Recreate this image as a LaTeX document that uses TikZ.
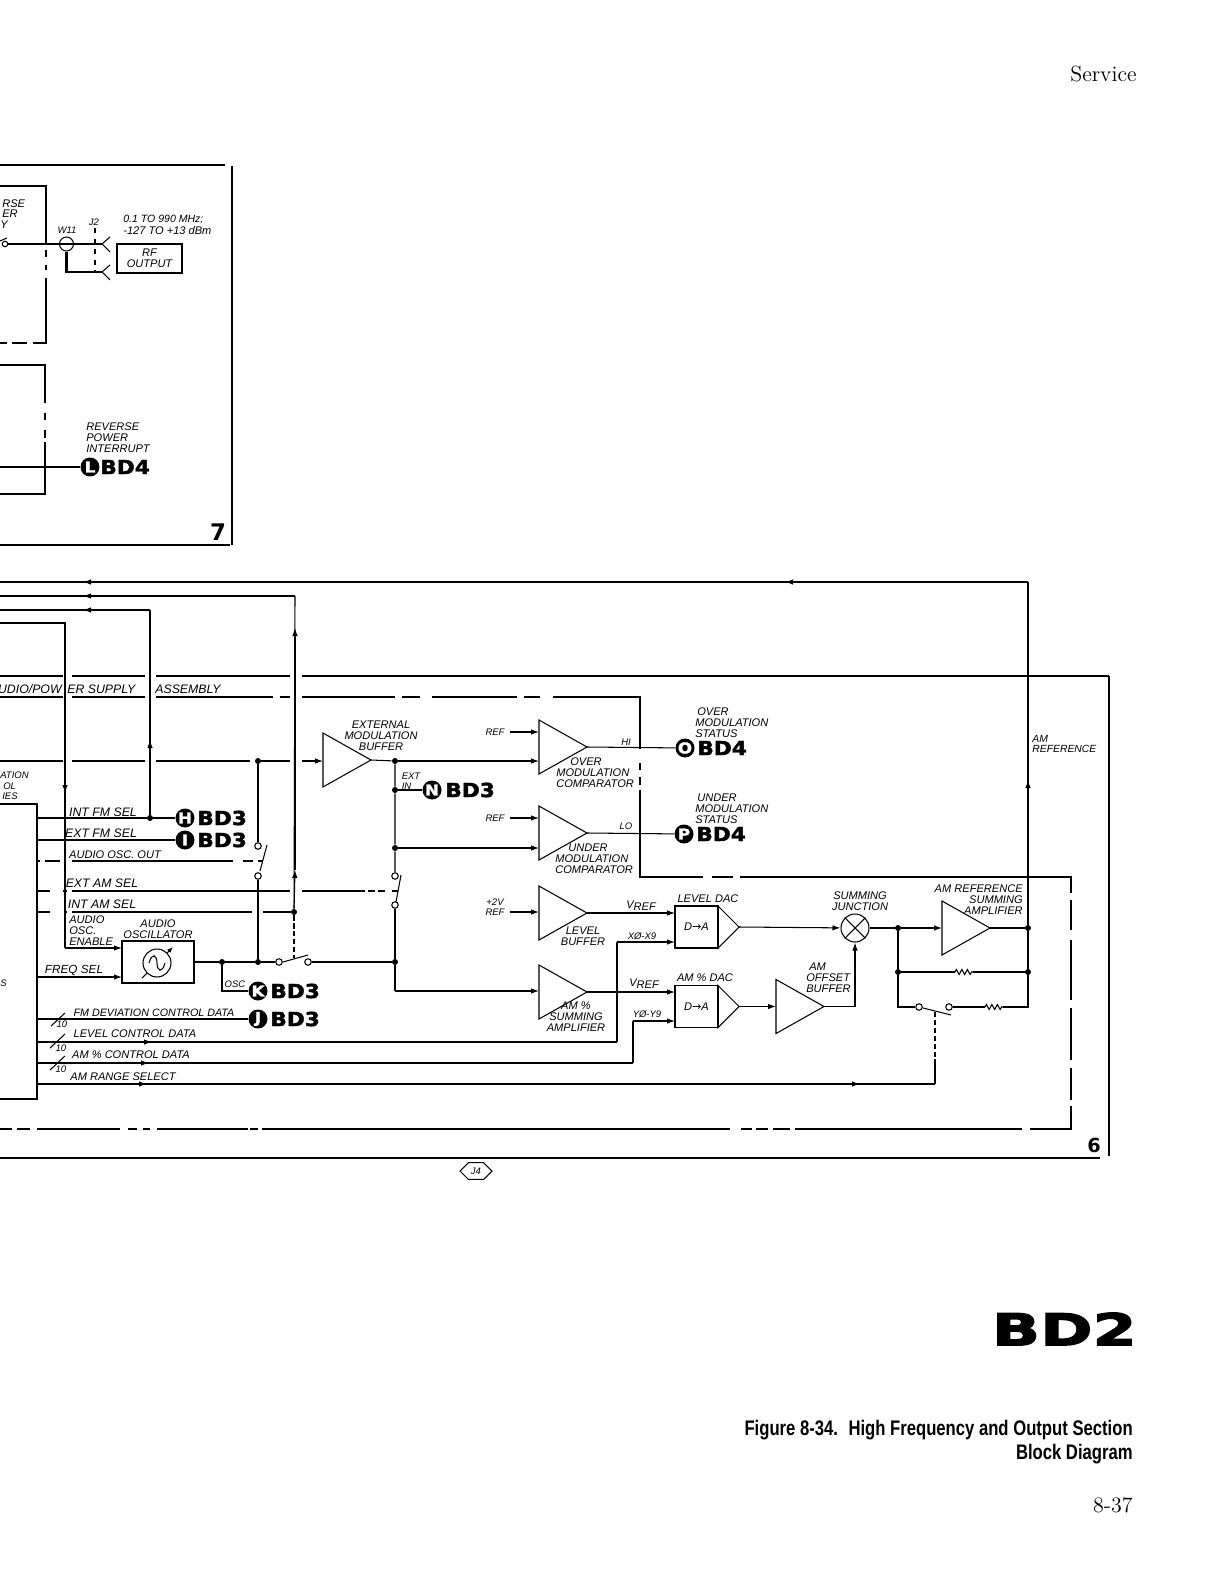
\documentclass[tikz,border=0pt]{standalone}
\usepackage{fontspec}
\usetikzlibrary{arrows.meta,shapes.geometric,shapes.misc,decorations.pathmorphing}
\newfontfamily\letterfont{Liberation Sans}
\newfontfamily\tagfont[FakeStretch=1.12,FakeBold=2]{DejaVu Sans}
\newfontfamily\plaquefont[FakeStretch=1.44,FakeBold=3]{DejaVu Sans}
\newfontfamily\capfont[FakeStretch=0.79]{Liberation Sans}
\newfontfamily\symfont{DejaVu Sans}
\begin{document}
\begin{tikzpicture}[x=0.02cm, y=-0.02cm,
    wire/.style={line width=0.6pt},
    thickwire/.style={line width=1.7pt},
    framing/.style={line width=1.2pt},
    flow/.style={-{Latex[length=1.6mm,width=1.1mm]}},
    lbl/.style={font=\letterfont\itshape\fontsize{6.3}{6.2}\selectfont, inner sep=0pt},
    lblwide/.style={font=\letterfont\itshape\fontsize{7}{7}\selectfont, inner sep=0pt},
    lblsm/.style={font=\letterfont\itshape\fontsize{5.4}{5.7}\selectfont, inner sep=0pt},
    jdot/.style={circle, fill=black, inner sep=0pt, minimum size=0.12cm},
    term/.style={circle, draw, fill=white, line width=0.6pt, inner sep=0pt, minimum size=0.13cm},
    bubble/.style={circle, fill=black, text=white, inner sep=0pt, minimum size=0.38cm, font=\tagfont\bfseries\fontsize{8.5}{8.5}\selectfont},
    bdtag/.style={anchor=west, inner sep=0pt, font=\tagfont\bfseries\fontsize{11}{11}\selectfont},
    amp/.style={draw, wire, isosceles triangle, isosceles triangle stretches, shape border rotate=0, minimum width=1.08cm, minimum height=0.96cm, inner sep=0pt, outer sep=0pt, anchor=lower side},
    dacamp/.style={amp, minimum width=0.84cm, minimum height=0.42cm},
    dacbox/.style={draw, wire, minimum width=0.86cm, minimum height=0.84cm, inner sep=0pt, font=\letterfont\itshape\fontsize{6.3}{6}\selectfont},
    resistor/.style={wire, decorate, decoration={zigzag, amplitude=0.05cm, segment length=0.11cm}},
    ]
    \useasboundingbox (0,0) rectangle (1204,1577);

    \node[font=\fontsize{12.5}{14}\selectfont, anchor=east, inner sep=0pt] (pagehead) at (1137,74) {Service};

    \draw[framing] (0,165) -- (225,165);
    \draw[framing, line width=1.6pt] (232,166) -- (232,545);
    \draw[framing] (0,545) -- (230,545);
    \node[font=\symfont\bfseries\fontsize{13}{13}\selectfont, inner sep=0pt] (panelseven) at (218,532) {7};

    \draw[wire] (0,186) -- (46,186) -- (46,343) -- (0,343);
    \draw[wire] (0,365) -- (45,365) -- (45,494) -- (0,494);

    \draw[framing] (0,676) -- (1109,676);
    \draw[framing, line width=1.6pt] (1109,676) -- (1109,1156);
    \draw[framing] (0,1158) -- (1100,1158);
    \node[font=\symfont\bfseries\fontsize{11}{11}\selectfont, inner sep=0pt] (panelsix) at (1094,1145) {6};
    \draw[wire] (0,697) -- (640,697) -- (640,877) -- (1071,877) -- (1071,1129) -- (0,1129);
    \draw[wire] (0,804) -- (37,804) -- (37,1099) -- (0,1099);

    \coordinate (modleft) at (0,761);
    \coordinate (extin) at (323,761);
    \coordinate (oscoutleft) at (37,861);
    \coordinate (oscoutright) at (263,861);
    \coordinate (extamleft) at (37,891);
    \coordinate (extamright) at (398,891);
    \coordinate (intamleft) at (37,912);
    \node[jdot] (intamdot) at (294,912) {};
    \coordinate (levleft) at (37,1042);
    \coordinate (levturn) at (617,1042);
    \coordinate (amcleft) at (37,1063);
    \coordinate (amcturn) at (633,1063);
    \coordinate (rngleft) at (37,1084);
    \coordinate (rngturn) at (935,1084);

    \draw[wire, flow] (modleft) -- (extin);
    \draw[wire] (oscoutleft) -- (oscoutright);
    \draw[wire] (extamleft) -- (extamright);
    \draw[wire] (intamleft) -- (intamdot);
    \draw[wire] (levleft) -- (levturn);
    \draw[wire] (amcleft) -- (amcturn);
    \draw[wire] (rngleft) -- (rngturn);

    \foreach \xa/\xb/\yy in {63/72/676, 145/156/676, 290/302/676,
        63/72/697, 145/156/697, 273/280/697, 290/302/697, 395/402/697, 420/432/697, 517/524/697, 540/553/697,
        63/72/761, 145/156/761, 250/256/761, 290/302/761,
        40/45/861, 60/72/861, 233/243/861, 253/258/861,
        50/63/891, 67/72/891, 290/302/891, 365/368/891, 375/378/891, 385/392/891,
        50/65/912, 67/72/912, 252/263/912,
        40/45/1042, 40/45/1063, 40/45/1084,
        12/17/1129, 30/37/1129, 120/128/1129, 137/143/1129, 150/157/1129, 248/250/1129, 258/262/1129,
        730/741/1129, 752/756/1129, 768/773/1129, 790/795/1129, 1022/1030/1129,
        703/712/877, 733/740/877,
        7/12/343, 27/33/343}
        \fill[white] (\xa,\yy-2) rectangle (\xb,\yy+2);
    \foreach \ya/\yb/\xx in {245/250/46, 257/265/46, 270/278/46,
        403/413/45, 420/430/45, 438/442/45,
        749/763/640, 770/777/640, 785/790/640,
        893/900/1071, 930/940/1071, 1000/1008/1071, 1060/1068/1071, 1100/1106/1071}
        \fill[white] (\xx-2,\ya) rectangle (\xx+2,\yb);

    \node[lbl, anchor=west] (rsetxt) at (2,204) {RSE};
    \node[lbl, anchor=west] (ertxt) at (2,214) {ER};
    \node[lbl, anchor=west] (ytxt) at (0,225) {Y};
    \node[term, minimum size=0.11cm] (rfterm) at (5,244) {};
    \coordinate (rfblade) at (0,241);
    \coordinate (rfbladeb) at (7,238);
    \draw[wire] (rfblade) -- (rfbladeb);
    \node[circle, draw, wire, inner sep=0pt, minimum size=0.28cm] (wcoax) at (66.5,244) {};
    \coordinate (forka) at (102,244);
    \coordinate (forkb) at (102,272);
    \coordinate (forkaup) at (110,237);
    \coordinate (forkadn) at (110,252);
    \coordinate (forkbup) at (110,265);
    \coordinate (forkbdn) at (110,280);
    \coordinate (jtwotop) at (95,228);
    \coordinate (jtwobot) at (95,272);
    \draw[thickwire] (rfterm) -- (forka);
    \draw[thickwire] (wcoax.south) -- (wcoax.south |- forkb) -- (forkb);
    \draw[wire] (forkaup) -- (forka) -- (forkadn);
    \draw[wire] (forkbup) -- (forkb) -- (forkbdn);
    \draw[wire, dashed] (jtwotop) -- (jtwobot);
    \node[draw, wire, minimum width=1.3cm, minimum height=0.58cm, inner sep=0pt, align=center, lbl] (rfout) at (149.5,258.5) {RF\\OUTPUT};
    \node[lblsm] (wtxt) at (67,230) {W11};
    \node[lblsm] (jtxt) at (94,222) {J2};
    \node[lbl, anchor=west, font=\letterfont\itshape\fontsize{6}{6}\selectfont] (freqtxt) at (123,219) {0.1 TO 990 MHz;};
    \node[lbl, anchor=west] (dbmtxt) at (123,231) {-127 TO +13 dBm};
    \node[lbl, align=left, anchor=west] (revtxt) at (86,438) {REVERSE\\POWER\\INTERRUPT};
    \node[bubble] (bubl) at (90,467) {L};
    \node[bdtag] (tagl) at (100,467) {BD4};
    \coordinate (revleft) at (0,467);
    \draw[wire] (revleft) -- (bubl);

    \coordinate (refcorner) at (1028,582);
    \coordinate (reftipa) at (785,582);
    \coordinate (reftipb) at (83,582);
    \coordinate (refend) at (0,582);
    \draw[wire] (refcorner) -- (refend);
    \draw[wire, flow] (refcorner) -- (reftipa);
    \draw[wire, flow] (reftipa) -- (reftipb);

    \coordinate (swcorner) at (295,596);
    \coordinate (swtipa) at (83,596);
    \coordinate (swend) at (0,596);
    \coordinate (swtipb) at (295,628);
    \coordinate (swtipc) at (295,870);
    \draw[wire] (swcorner) -- (swend);
    \draw[wire, flow] (swcorner) -- (swtipa);
    \draw[wire] (intamdot) -- (swcorner);
    \draw[wire, flow] (intamdot) -- (swtipc);
    \draw[wire, flow] (swtipc) -- (swtipb);

    \coordinate (fmcorner) at (150,610);
    \coordinate (fmtipa) at (83,610);
    \coordinate (fmend) at (0,610);
    \coordinate (fmtipb) at (150,740);
    \node[jdot] (fmdot) at (150,818) {};
    \draw[wire] (fmcorner) -- (fmend);
    \draw[wire, flow] (fmcorner) -- (fmtipa);
    \draw[wire] (fmdot) -- (fmcorner);
    \draw[wire, flow] (fmdot) -- (fmtipb);

    \coordinate (encorner) at (65,623);
    \coordinate (enend) at (0,623);
    \coordinate (entipa) at (65,793);
    \coordinate (enturn) at (65,948);
    \coordinate (enin) at (122,948);
    \draw[wire] (enend) -- (encorner) -- (enturn);
    \draw[wire, flow] (encorner) -- (entipa);
    \draw[wire, flow] (enturn) -- (enin);

    \node[lblwide, anchor=east] (udiotxt) at (62,689) {UDIO/POW};
    \node[lblwide, anchor=west] (ertxtb) at (67,689) {ER SUPPLY};
    \node[lblwide, anchor=west] (asmtxt) at (155,689) {ASSEMBLY};
    \node[lblsm, anchor=west] (atiotxt) at (0,775) {ATION};
    \node[lblsm, anchor=west] (roltxt) at (3,786) {OL};
    \node[lblsm, anchor=west] (hestxt) at (2,796) {IES};
    \node[lblsm, anchor=west] (setxt) at (0,983) {S};

    \coordinate (intfm) at (37,818);
    \coordinate (extfm) at (37,840);
    \node[bubble] (bubh) at (185,818) {H};
    \node[bdtag] (tagh) at (197,818) {BD3};
    \node[bubble] (bubi) at (185,840) {I};
    \node[bdtag] (tagi) at (197,840) {BD3};
    \draw[wire] (intfm) -- (fmdot) -- (bubh);
    \draw[wire] (extfm) -- (bubi);
    \node[lblwide] (intfmtxt) at (103,812) {INT FM SEL};
    \node[lblwide] (extfmtxt) at (101,833) {EXT FM SEL};
    \node[lbl] (oscouttxt) at (115,855) {AUDIO OSC. OUT};
    \node[lblwide] (extamtxt) at (102,883) {EXT AM SEL};
    \node[lblwide] (intamtxt) at (102,904) {INT AM SEL};
    \node[lbl, align=left, anchor=west] (enabletxt) at (69,931) {AUDIO\\OSC.\\ENABLE};

    \node[lbl, align=center] (osctxt) at (158,929) {AUDIO\\OSCILLATOR};
    \node[draw, wire, minimum width=1.44cm, minimum height=0.84cm, inner sep=0pt] (oscbox) at (158,962) {};
    \node[circle, draw, wire, inner sep=0pt, minimum size=0.56cm] (oscdial) at (157,963) {};
    \coordinate (dialbot) at (142,978);
    \coordinate (dialtop) at (173,947);
    \draw[wire] (dialbot) -- (oscdial.south west);
    \draw[wire, -{Latex[length=1.2mm,width=0.9mm]}] (oscdial.north east) -- (dialtop);
    \draw[wire] (149,963) .. controls (152,952) and (157,955) .. (157,963) .. controls (157,971) and (162,974) .. (165,963);
    \coordinate (freqleft) at (37,977);
    \coordinate (freqin) at (122,977);
    \draw[wire, flow] (freqleft) -- (freqin);
    \node[lbl, font=\letterfont\itshape\fontsize{6.7}{7}\selectfont] (freqseltxt) at (74,970) {FREQ SEL};

    \node[jdot] (oscdot) at (222,962) {};
    \node[jdot] (sigdot) at (258,962) {};
    \node[term] (swbl) at (279,962) {};
    \node[term] (swbr) at (308,962) {};
    \coordinate (swbhinge) at (283,962);
    \coordinate (swbend) at (308,955);
    \node[jdot] (extdot) at (395,962) {};
    \draw[wire] (oscbox.east |- oscdot) -- (oscdot) -- (sigdot) -- (swbl);
    \draw[wire] (swbhinge) -- (swbend);
    \draw[wire] (swbr) -- (extdot);
    \coordinate (swbpull) at (294,958);
    \draw[wire, dashed, dash pattern=on 3pt off 1.5pt] (intamdot) -- (swbpull);

    \node[jdot] (moddot) at (258,761) {};
    \node[term] (swat) at (258,846) {};
    \node[term] (swab) at (258,876) {};
    \coordinate (swatop) at (267,845);
    \coordinate (swabot) at (260,871);
    \draw[wire] (moddot) -- (swat);
    \draw[wire] (swab) -- (sigdot);
    \draw[wire] (swatop) -- (swabot);

    \coordinate (oscturn) at (222,991);
    \node[bubble] (bubk) at (258,991) {K};
    \node[bdtag] (tagk) at (270,991) {BD3};
    \draw[wire] (oscdot) -- (oscturn) -- (bubk);
    \node[lblsm] (osclbl) at (235,984) {OSC};

    \coordinate (fmdleft) at (37,1019);
    \node[bubble] (bubj) at (258,1019) {J};
    \node[bdtag] (tagj) at (270,1019) {BD3};
    \draw[wire] (fmdleft) -- (bubj);
    \node[lblsm, font=\letterfont\itshape\fontsize{6.1}{6}\selectfont] (fmdtxt) at (154,1013) {FM DEVIATION CONTROL DATA};
    \coordinate (slaAa) at (51,1026);
    \coordinate (slaAb) at (65,1013);
    \coordinate (slaBa) at (50,1048);
    \coordinate (slaBb) at (65,1034);
    \coordinate (slaCa) at (50,1070);
    \coordinate (slaCb) at (65,1056);
    \draw[wire] (slaAa) -- (slaAb);
    \draw[wire] (slaBa) -- (slaBb);
    \draw[wire] (slaCa) -- (slaCb);
    \node[lblsm] (tena) at (62,1024) {10};
    \node[lblsm] (tenb) at (61,1048) {10};
    \node[lblsm] (tenc) at (61,1069) {10};

    \node[lbl] (levtxt) at (135,1034) {LEVEL CONTROL DATA};
    \node[lbl] (amctxt) at (131,1055) {AM \% CONTROL DATA};
    \node[lbl] (rngtxt) at (123,1077) {AM RANGE SELECT};
    \coordinate (levtip) at (152,1042);
    \coordinate (amctip) at (149,1063);
    \coordinate (rngtipa) at (147,1084);
    \coordinate (rngtipb) at (860,1084);
    \draw[wire, flow] (levleft) -- (levtip);
    \draw[wire, flow] (amcleft) -- (amctip);
    \draw[wire, flow] (rngleft) -- (rngtipa);
    \draw[wire, flow] (rngtipa) -- (rngtipb);

    \node[amp] (extbuf) at (323,760) {};
    \node[jdot] (bufdot) at (395,761) {};
    \node[jdot] (indot) at (395,790) {};
    \node[jdot] (undot) at (395,848) {};
    \node[term] (swct) at (395,876) {};
    \node[term] (swcb) at (395,905) {};
    \coordinate (swctop) at (401,875);
    \coordinate (swcbot) at (396,902);
    \draw[wire] (extbuf.apex) -- (bufdot) -- (indot) -- (undot) -- (swct);
    \draw[wire] (swcb) -- (extdot);
    \draw[wire] (swctop) -- (swcbot);
    \node[lbl, align=center] (extbuftxt) at (381,736) {EXTERNAL\\MODULATION\\BUFFER};
    \node[bubble] (bubn) at (432,790) {N};
    \node[bdtag] (tagn) at (445,790) {BD3};
    \draw[wire] (indot) -- (bubn);
    \node[lblsm, align=left] (extintxt) at (411,781) {EXT\\IN};

    \node[amp] (ovrcmp) at (539,747) {};
    \coordinate (ovrref) at (510,732);
    \coordinate (ovrrefin) at (539,732);
    \coordinate (ovrsig) at (539,761);
    \node[lblsm] (ovrreftxt) at (495,732) {REF};
    \draw[wire, flow] (ovrref) -- (ovrrefin);
    \draw[wire, flow] (bufdot) -- (ovrsig);
    \node[lbl, align=left, anchor=west] (ovrtxt) at (556,773) {\hspace*{0.28cm}OVER\\MODULATION\\COMPARATOR};
    \node[lblsm] (hitxt) at (626,742) {HI};
    \node[bubble] (bubo) at (685,748) {O};
    \node[bdtag] (tago) at (697,748) {BD4};
    \draw[wire] (ovrcmp.apex) -- (bubo);
    \node[lbl, align=left, anchor=west] (ovrsttxt) at (695,723) {\hspace*{0.04cm}OVER\\MODULATION\\STATUS};

    \node[amp] (undcmp) at (539,833) {};
    \coordinate (undref) at (510,818);
    \coordinate (undrefin) at (539,818);
    \coordinate (undsig) at (539,848);
    \node[lblsm] (undreftxt) at (495,818) {REF};
    \draw[wire, flow] (undref) -- (undrefin);
    \draw[wire, flow] (undot) -- (undsig);
    \node[lbl, align=left, anchor=west] (undtxt) at (555,859) {\hspace*{0.26cm}UNDER\\MODULATION\\COMPARATOR};
    \node[lblsm] (lotxt) at (626,826) {LO};
    \node[bubble] (bubp) at (684,834) {P};
    \node[bdtag] (tagp) at (696,834) {BD4};
    \draw[wire] (undcmp.apex) -- (bubp);
    \node[lbl, align=left, anchor=west] (undsttxt) at (695,809) {\hspace*{0.04cm}UNDER\\MODULATION\\STATUS};

    \node[amp] (levbuf) at (539,913) {};
    \coordinate (twovref) at (510,912);
    \coordinate (twovin) at (539,912);
    \node[lblsm, align=center] (twovtxt) at (495,907) {+2V\\REF};
    \draw[wire, flow] (twovref) -- (twovin);
    \node[lbl, align=center] (levbuftxt) at (583,936) {LEVEL\\BUFFER};

    \node[amp] (ampct) at (539,992) {};
    \coordinate (ampctturn) at (395,991);
    \coordinate (ampctin) at (539,991);
    \draw[wire] (extdot) -- (ampctturn);
    \draw[wire, flow] (ampctturn) -- (ampctin);
    \node[lbl, align=center] (ampcttxt) at (576,1017) {AM \%\\SUMMING\\AMPLIFIER};

    \node[dacbox] (levdac) at (696.5,927) {D{\symfont →}A};
    \node[dacamp] (levdacamp) at (718,927) {};
    \coordinate (levvrefin) at (675,913);
    \coordinate (levdatacorner) at (617,942);
    \coordinate (levdatain) at (675,942);
    \draw[wire, flow] (levbuf.apex) -- (levvrefin);
    \draw[wire] (levturn) -- (levdatacorner);
    \draw[wire, flow] (levdatacorner) -- (levdatain);
    \node[lbl] (levdactxt) at (708,899) {LEVEL DAC};
    \node[lbl] (vreftxta) at (641,906) {\raisebox{1pt}{V}REF};
    \node[lblsm] (xtxt) at (642,936) {XØ-X9};

    \node[dacbox] (amdac) at (696.5,1006.5) {D{\symfont →}A};
    \node[dacamp] (amdacamp) at (718,1006.5) {};
    \coordinate (amvrefin) at (675,992);
    \coordinate (amdatacorner) at (633,1021);
    \coordinate (amdatain) at (675,1021);
    \draw[wire, flow] (ampct.apex) -- (amvrefin);
    \draw[wire] (amcturn) -- (amdatacorner);
    \draw[wire, flow] (amdatacorner) -- (amdatain);
    \node[lbl] (amdactxt) at (705,978) {AM \% DAC};
    \node[lbl] (vreftxtb) at (644,984) {\raisebox{1pt}{V}REF};
    \node[lblsm] (ytxtb) at (647,1014) {YØ-Y9};

    \node[amp] (offbuf) at (776,1006.5) {};
    \draw[wire, flow] (amdacamp.apex) -- (offbuf.lower side);
    \node[lbl, align=left, anchor=west] (offtxt) at (806,978) {\hspace*{0.06cm}AM\\OFFSET\\BUFFER};
    \node[circle, draw, wire, inner sep=0pt, minimum size=0.56cm] (sumj) at (855,928) {};
    \draw[wire] (sumj.45) -- (sumj.225);
    \draw[wire] (sumj.135) -- (sumj.-45);
    \draw[wire, flow] (levdacamp.apex) -- (sumj);
    \coordinate (offturn) at (855,1006.5);
    \draw[wire] (offbuf.apex) -- (offturn);
    \draw[wire, flow] (offturn) -- (sumj);
    \node[lbl, align=center] (sumtxt) at (860,901) {SUMMING\\JUNCTION};

    \node[amp] (amrefamp) at (942,928) {};
    \node[jdot] (sumdot) at (898,928) {};
    \node[jdot] (refdot) at (1028,928) {};
    \draw[wire] (sumj) -- (sumdot);
    \draw[wire, flow] (sumdot) -- (amrefamp.lower side);
    \draw[wire] (amrefamp.apex) -- (refdot);
    \node[lbl, align=right, anchor=east] (amreftxt) at (1023,900) {AM REFERENCE\\SUMMING\hspace*{0.2cm}\\AMPLIFIER};

    \node[jdot] (fbdot) at (898,972) {};
    \node[jdot] (fbdotr) at (1028,972) {};
    \coordinate (resaa) at (955,972);
    \coordinate (resab) at (973,972);
    \draw[wire] (sumdot) -- (fbdot) -- (resaa);
    \draw[resistor] (resaa) -- (resab);
    \draw[wire] (resab) -- (fbdotr);

    \coordinate (fbturn) at (898,1007);
    \coordinate (fbturnr) at (1028,1007);
    \node[term] (swdl) at (919,1007) {};
    \node[term] (swdr) at (949,1007) {};
    \coordinate (resba) at (985,1007);
    \coordinate (resbb) at (1003,1007);
    \coordinate (swdhinge) at (923,1008);
    \coordinate (swdend) at (951,1015);
    \draw[wire] (fbdot) -- (fbturn) -- (swdl);
    \draw[wire] (swdr) -- (resba);
    \draw[resistor] (resba) -- (resbb);
    \draw[wire] (resbb) -- (fbturnr) -- (fbdotr) -- (refdot);
    \draw[wire] (swdhinge) -- (swdend);
    \coordinate (swdpull) at (935,1012);
    \coordinate (swdbreak) at (935,1060);
    \draw[wire, dashed, dash pattern=on 3pt off 1.5pt] (swdpull) -- (swdbreak);
    \draw[wire] (swdbreak) -- (rngturn);

    \coordinate (reftipc) at (1028,780);
    \draw[wire] (refdot) -- (refcorner);
    \draw[wire, flow] (refdot) -- (reftipc);
    \node[lblsm, align=left, anchor=west, font=\letterfont\itshape\fontsize{5.9}{5.9}\selectfont] (amrefside) at (1032,744) {AM\\REFERENCE};

    \node[draw, wire, chamfered rectangle, chamfered rectangle xsep=0.1cm, chamfered rectangle ysep=0.14cm, minimum width=0.64cm, minimum height=0.28cm, inner sep=0pt, lblsm] (conn) at (476,1171) {J4};

    \node[anchor=east, inner sep=0pt, font=\plaquefont\bfseries\fontsize{25}{25}\selectfont] (plaque) at (1137,1329) {BD2};
    \node[anchor=east, align=right, inner sep=0pt, font=\capfont\bfseries\fontsize{12}{14}\selectfont] (caption) at (1133,1442) {Figure 8-34.\enspace High Frequency and Output Section\\Block Diagram};
    \node[anchor=east, inner sep=0pt, font=\fontsize{12.5}{14}\selectfont] (pagefoot) at (1133,1505) {8-37};
\end{tikzpicture}
\end{document}
